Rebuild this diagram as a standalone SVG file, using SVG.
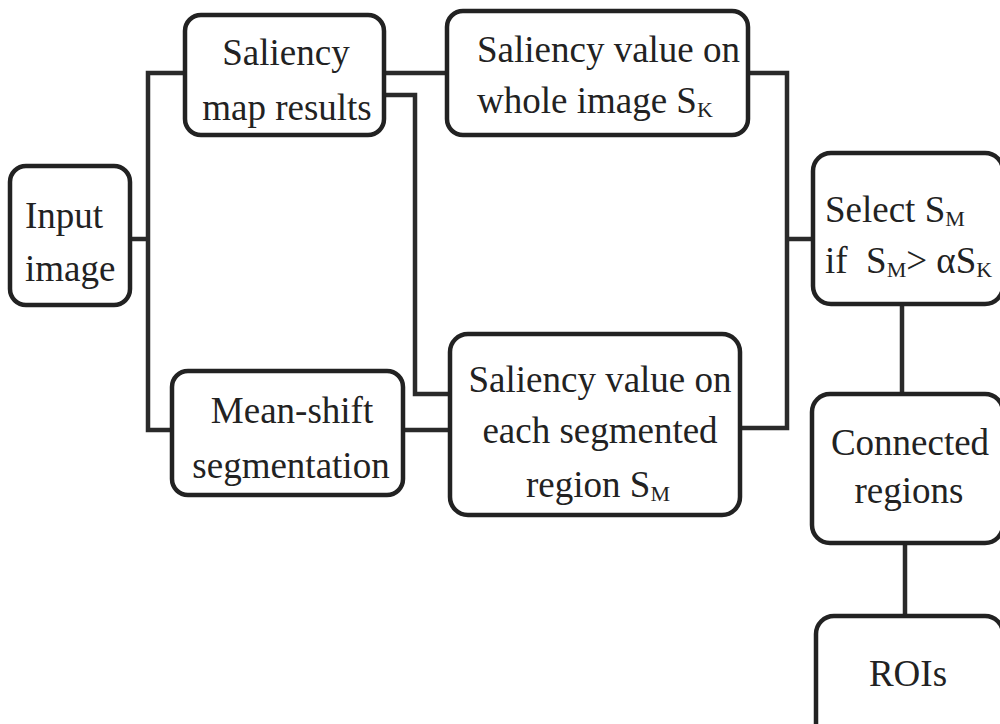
<svg xmlns="http://www.w3.org/2000/svg" width="1000" height="724" viewBox="0 0 1000 724">
<style>
.box{fill:#fff;stroke:#222;stroke-width:4.5}
.ln{fill:none;stroke:#2a2a2a;stroke-width:4.5}
.c{text-anchor:middle}
.sub{font-size:22px}
</style>
<rect width="1000" height="724" fill="#fff"/>
<g id="connectors">
<polyline class="ln" points="130,239 148,239"/>
<polyline class="ln" points="185,73 148,73 148,430 172,430"/>
<polyline class="ln" points="385,73 447,73"/>
<polyline class="ln" points="385,95 415,95 415,394 450,394"/>
<polyline class="ln" points="403,430 450,430"/>
<polyline class="ln" points="748,73 787,73 787,428 740,428"/>
<polyline class="ln" points="787,239 813,239"/>
<polyline class="ln" points="902,305 902,394"/>
<polyline class="ln" points="905,543 905,616"/>
</g>
<g font-family="Liberation Serif, Times New Roman, serif" font-size="37" fill="#222">
<g id="input">
<rect class="box" x="10" y="166" width="120" height="139" rx="16"/>
<text x="25" y="228">Input</text>
<text x="25" y="281">image</text>
</g>
<g id="saliency-map">
<rect class="box" x="185" y="15" width="199" height="120" rx="16"/>
<text class="c" x="286" y="65">Saliency</text>
<text class="c" x="287" y="120">map results</text>
</g>
<g id="saliency-whole">
<rect class="box" x="447" y="11" width="301" height="124" rx="16"/>
<text x="477" y="62">Saliency value on</text>
<text x="477" y="113">whole image S<tspan class="sub" dy="4">K</tspan></text>
</g>
<g id="meanshift">
<rect class="box" x="172" y="371" width="231" height="124" rx="16"/>
<text class="c" x="292" y="423">Mean-shift</text>
<text class="c" x="291" y="478">segmentation</text>
</g>
<g id="saliency-each">
<rect class="box" x="450" y="334" width="290" height="181" rx="18"/>
<text class="c" x="600" y="392">Saliency value on</text>
<text class="c" x="600" y="443">each segmented</text>
<text class="c" x="598" y="497">region S<tspan class="sub" dy="4">M</tspan></text>
</g>
<g id="select">
<rect class="box" x="813" y="153" width="190" height="151" rx="18"/>
<text x="825" y="222">Select S<tspan class="sub" dy="4">M</tspan></text>
<text x="825" y="273" xml:space="preserve">if  S<tspan class="sub" dy="4">M</tspan><tspan dy="-4">&gt; αS</tspan><tspan class="sub" dy="4">K</tspan></text>
</g>
<g id="connected">
<rect class="box" x="812" y="394" width="191" height="149" rx="18"/>
<text class="c" x="910" y="455">Connected</text>
<text class="c" x="909" y="503">regions</text>
</g>
<g id="rois">
<rect class="box" x="816" y="616" width="187" height="130" rx="18"/>
<text class="c" x="908" y="686">ROIs</text>
</g>
</g>
</svg>
